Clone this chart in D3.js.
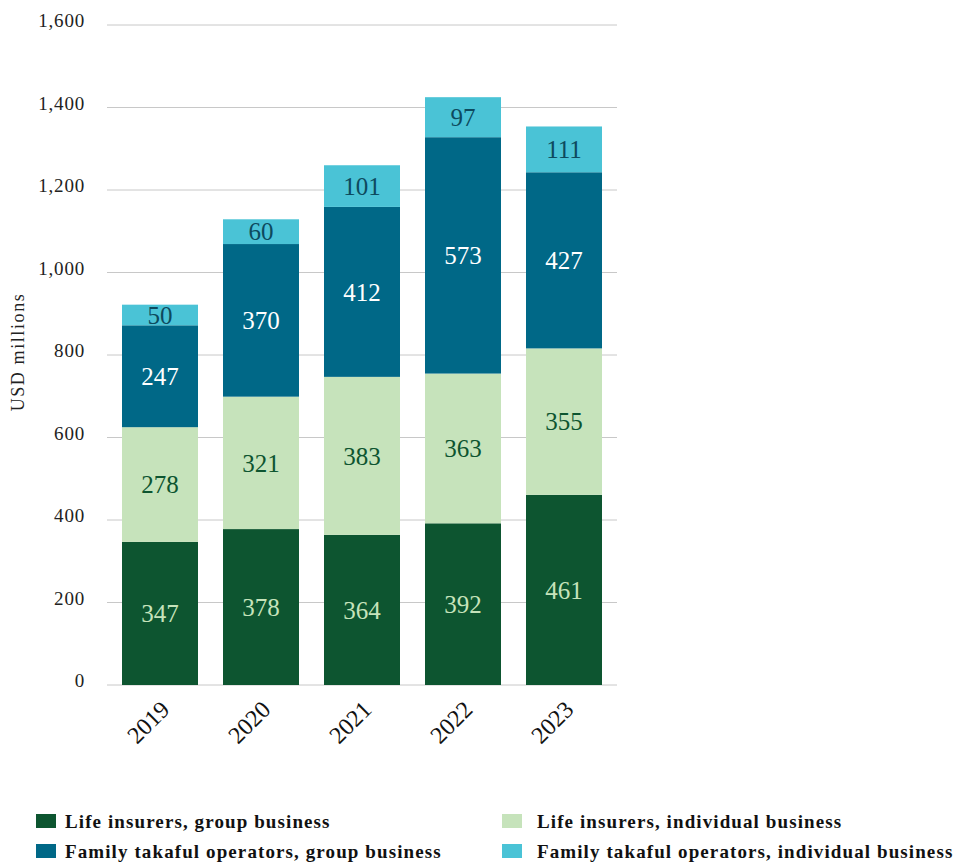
<!DOCTYPE html>
<html><head><meta charset="utf-8">
<script src="https://cdn.jsdelivr.net/npm/d3@7"></script>
<style>body{margin:0;background:#fff}svg{display:block}</style>
</head><body>
<svg id="chart" width="965" height="862"></svg>
<script>
const years = ["2019","2020","2021","2022","2023"];
const lifeGroup = [347,378,364,392,461];
const lifeIndividual = [278,321,383,363,355];
const takafulGroup = [247,370,412,573,427];
const takafulIndividual = [50,60,101,97,111];
const seriesNames = ["Life insurers, group business","Life insurers, individual business","Family takaful operators, group business","Family takaful operators, individual business"];
const seriesColors = ["#0d5530","#c6e3bb","#006887","#4ac3d6"];
const labelColors = ["#c6e3bb","#0d5530","#ffffff","#0d4a5e"];
const yTicks = [0,200,400,600,800,1000,1200,1400,1600];

const svg = d3.select("#chart");
const font = "'Liberation Serif','DejaVu Serif',serif";
const y = d3.scaleLinear().domain([0,1600]).range([685,25]);
const x = d3.scaleBand().domain(years).range([107,617]).paddingInner(0.2475).paddingOuter(0.1485);

const data = years.map((yr,i)=>({year:yr, s0:lifeGroup[i], s1:lifeIndividual[i], s2:takafulGroup[i], s3:takafulIndividual[i]}));
const stack = d3.stack().keys(["s0","s1","s2","s3"])(data);

// grid
svg.append("g").selectAll("line").data(yTicks).join("line")
  .attr("x1",107).attr("x2",617).attr("y1",d=>y(d)).attr("y2",d=>y(d))
  .attr("stroke","#c8c8c8").attr("stroke-width",1);
svg.append("g").selectAll("text").data(yTicks).join("text")
  .attr("x",85).attr("y",d=>y(d)+2).attr("text-anchor","end")
  .attr("font-family",font).attr("font-size",19).attr("letter-spacing",0.8).attr("fill","#222")
  .text(d=>d3.format(",")(d));
svg.append("text").attr("transform","translate(24,352) rotate(-90)")
  .attr("text-anchor","middle").attr("font-family",font).attr("font-size",18).attr("letter-spacing",1.6).attr("fill","#222")
  .text("USD millions");

const layers = svg.append("g").selectAll("g").data(stack).join("g")
  .attr("fill",(d,i)=>seriesColors[i]);
layers.selectAll("rect").data(d=>d).join("rect")
  .attr("x",d=>x(d.data.year)).attr("width",x.bandwidth())
  .attr("y",d=>y(d[1])).attr("height",d=>y(d[0])-y(d[1]));
svg.append("g").selectAll("g").data(stack).join("g")
  .attr("fill",(d,i)=>labelColors[i])
  .selectAll("text").data(d=>d).join("text")
  .attr("x",d=>x(d.data.year)+x.bandwidth()/2)
  .attr("y",d=>(y(d[0])+y(d[1]))/2)
  .attr("dy","0.35em").attr("text-anchor","middle")
  .attr("font-family",font).attr("font-size",25)
  .text(d=>d[1]-d[0]);

// x labels
svg.append("g").selectAll("text").data(years).join("text")
  .attr("transform",d=>`translate(${x(d)+x.bandwidth()/2+11},${711}) rotate(-45)`)
  .attr("text-anchor","end").attr("font-family",font).attr("font-size",24).attr("fill","#111")
  .text(d=>d);

// legend
const legPos = [[36,814,29],[502,814,35],[36,844,29],[502,844,35]];
const leg = svg.append("g").selectAll("g").data(seriesNames).join("g")
  .attr("transform",(d,i)=>`translate(${legPos[i][0]},${legPos[i][1]})`);
leg.append("rect").attr("width",20).attr("height",14).attr("fill",(d,i)=>seriesColors[i]);
leg.append("text").attr("x",(d,i)=>legPos[i][2]).attr("y",14).attr("font-family",font).attr("font-weight","bold")
  .attr("font-size",19).attr("letter-spacing",1.1).attr("fill","#111").text(d=>d);
</script>
</body></html>
